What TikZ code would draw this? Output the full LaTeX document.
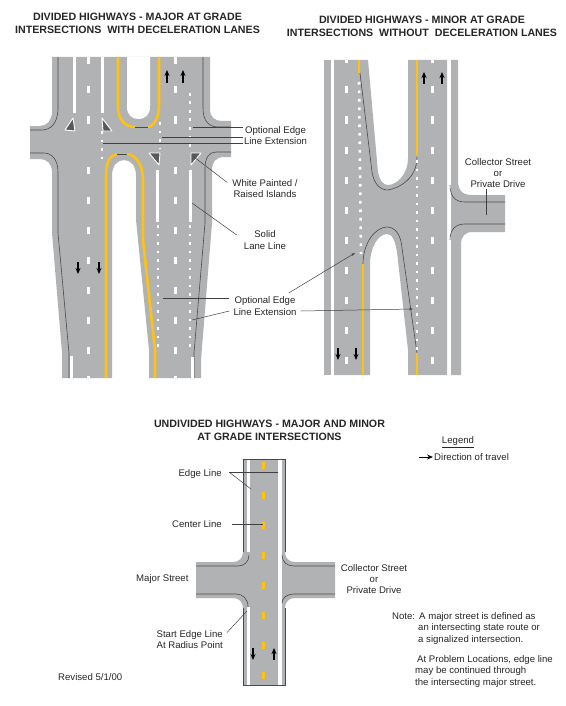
\documentclass[tikz,border=0pt]{standalone}
\usepackage{fontspec}
\setmainfont{Liberation Sans}
\usetikzlibrary{arrows.meta, calc}
\definecolor{road}{HTML}{B1B2B4}
\definecolor{edge}{HTML}{4A4A4C}
\definecolor{stripe}{HTML}{FFC20E}
\definecolor{isle}{HTML}{58595B}
\begin{document}
\begin{tikzpicture}[
  x=1pt, y=-1pt,
  lbl/.style={font=\fontsize{9.6}{11.3}\selectfont, inner sep=1pt, align=center, text=black!85},
  ttl/.style={font=\fontsize{10.65}{12.7}\selectfont\bfseries, inner sep=0pt, align=center, text=black!85},
  pave/.style={fill=road, draw=none},
  edgeln/.style={draw=edge, line width=0.6pt},
  yel/.style={draw=stripe, line width=2.6pt},
  wht/.style={draw=white, line width=3pt},
  dots/.style={draw=white, line width=2.6pt, dash pattern=on 2.6pt off 5.9pt},
  ar/.style={-{Stealth[length=6pt,width=5pt]}, line width=1.2pt, black},
  lead/.style={draw=black!75, line width=0.5pt},
  leadar/.style={lead, -{Stealth[length=4pt,width=2.5pt]}},
  tri/.style={fill=isle, draw=white, line width=0.9pt, line join=round}
]
\useasboundingbox (0,0) rectangle (565,706);

% left panel
\fill[pave] (52,57) -- (210,57) -- (210,110) .. controls (210,117) and (215,121) .. (222,121) -- (231,121) -- (231,157)
  -- (224,157) .. controls (216,157) and (212,162) .. (212,170) -- (212,223) -- (201,360) -- (201,378) -- (149,378) -- (149,350)
  -- (136,220) -- (136,176) .. controls (136,166) and (131,160) .. (124,160) .. controls (117,160) and (112,166) .. (112,176)
  -- (112,378) -- (62,378) -- (62,353) -- (52,233) -- (52,172) .. controls (52,164) and (47,159) .. (40,159) -- (30,159)
  -- (30,126) -- (40,126) .. controls (47,126) and (52,120) .. (52,112) -- cycle;
\fill[white] (127,57) -- (127,107) .. controls (127,115) and (132,119) .. (138.5,119) .. controls (145,119) and (150,115) .. (150,107) -- (150,57) -- cycle;
\draw[edgeln] (58,57) -- (58,108) .. controls (58,124) and (50,130) .. (42,130) -- (30,130);
\draw[edgeln] (30,153) -- (44,153) .. controls (52,153) and (58,160) .. (58,172) -- (58,233) -- (69,353) -- (69,378);
\draw[edgeln] (203,57) -- (203,108) .. controls (203,120) and (208,127) .. (218,127) -- (231,127);
\draw[edgeln] (231,152) -- (216,152) .. controls (209,152) and (205,158) .. (205,168) -- (205,223) -- (194,353) -- (194,378);
\draw[yel] (118,57) -- (118,107) .. controls (118,120) and (126,127) .. (135,127);
\draw[edgeln] (135,127) -- (148,127);
\draw[yel] (148,127) .. controls (155,126) and (159,116) .. (159,105) -- (159,57);
\draw[yel] (106,378) -- (106,175) .. controls (106,163) and (110,155) .. (117,154);
\draw[edgeln] (117,154) -- (127,154);
\draw[yel] (127,154) .. controls (137,155) and (143,166) .. (143,180) -- (143,240) -- (155,350) -- (155,378);
\foreach \xa in {74,102} \draw[wht] (\xa,57) -- (\xa,113);
\foreach \xa in {157.5,190} \draw[wht] (\xa,170) -- (\xa,222);
\draw[wht] (71,356) -- (71,378);
\draw[wht] (192,357) -- (192,378);
\foreach \ya in {90,120,170,200,230,260,290,320,350} {
  \draw[wht] (88,\ya-3.5) -- (88,\ya+3.5);
  \draw[wht] (175,\ya-3.5) -- (175,\ya+3.5);
}
\foreach \xa in {88,175} {
  \draw[wht] (\xa,57) -- (\xa,64);
  \draw[wht] (\xa,376) -- (\xa,378);
}
\draw[dots] (190,93) -- (190,147);
\draw[dots] (160,122) -- (160,149);
\draw[dots] (102,131) -- (102,160);
\draw[dots] (158,225) -- (158,348);
\draw[dots] (190,225) -- (190,348);
\draw[tri] (65,130) -- (73,118) -- (75,131) -- cycle;
\draw[tri] (102,118) -- (112,131) -- (103,131) -- cycle;
\draw[tri] (149,153) -- (160,153) -- (159,165) -- cycle;
\draw[tri] (191,153) -- (201,153) -- (191,165) -- cycle;
\foreach \xa in {167,183} \draw[ar] (\xa,83) -- (\xa,70);
\foreach \xa in {78,99} \draw[ar] (\xa,262) -- (\xa,274);

% right panel
\fill[pave] (324,60) rectangle (331,375);
\fill[pave] (334,60) -- (368,60) -- (378,172) .. controls (380,182) and (384,185) .. (388,185) .. controls (396,185) and (408,175) .. (408,158)
  -- (408,60) -- (447,60) -- (447,375) -- (408,375) -- (408,350) -- (397,252) .. controls (395,240) and (392,234) .. (387,234)
  .. controls (378,234) and (370,248) .. (370,264) -- (370,375) -- (334,375) -- cycle;
\fill[pave] (451,60) -- (458,60) -- (458,180) .. controls (458,190) and (462,195) .. (472,195) -- (505,195) -- (505,232) -- (473,232)
  .. controls (465,232) and (461,236) .. (461,245) -- (461,375) -- (451,375) -- cycle;
\draw[edgeln] (360,73) -- (372,172) .. controls (374,184) and (380,190) .. (388,190) .. controls (400,188) and (417,178) .. (417,157);
\draw[edgeln] (363,264) .. controls (363,242) and (376,227) .. (387,227) .. controls (396,227) and (401,236) .. (402,248) -- (417,353);
\draw[edgeln] (450,185) .. controls (450,196) and (455,202) .. (465,202) -- (505,202);
\draw[edgeln] (450,240) .. controls (450,230) and (455,224) .. (465,224) -- (505,224);
\draw[yel] (359,60) -- (359,73);
\draw[yel] (417,60) -- (417,155);
\draw[yel] (363,264) -- (363,375);
\draw[yel] (417,353) -- (417,375);
\foreach \ya in {90,120,150,180,210,240,270,300,330,360} {
  \draw[wht] (346,\ya-3.5) -- (346,\ya+3.5);
  \draw[wht] (432,\ya-3.5) -- (432,\ya+3.5);
}
\foreach \xa in {346,432} \draw[wht] (\xa,60) -- (\xa,63);
\draw[dots] (359,82) -- (361,254);
\draw[dots] (417,160) -- (417,350);
\foreach \xa in {424,442} \draw[ar] (\xa,84) -- (\xa,72);
\foreach \xa in {338,356} \draw[ar] (\xa,348) -- (\xa,360);

% bottom panel
\fill[pave] (243,459) -- (285,459) -- (285,552) .. controls (285,558) and (289,562) .. (295,562) -- (335,562) -- (335,598) -- (295,598)
  .. controls (289,598) and (285,602) .. (285,608) -- (285,685) -- (243,685) -- (243,608) .. controls (243,602) and (239,598) .. (233,598)
  -- (196,598) -- (196,562) -- (233,562) .. controls (239,562) and (243,558) .. (243,552) -- cycle;
\fill[white] (246.5,459) rectangle (250,552);
\fill[white] (246.5,607) rectangle (250,685);
\fill[white] (278,459) rectangle (281.5,685);
\draw[edgeln] (243.3,552) -- (243.3,459) -- (284.8,459) -- (284.8,552);
\draw[edgeln] (243.3,608) -- (243.3,685) -- (284.8,685) -- (284.8,608);
\draw[edgeln] (249,555) .. controls (249,562) and (244,566) .. (238,566) -- (196,566);
\draw[edgeln] (282,555) .. controls (282,562) and (287,566) .. (294,566) -- (335,566);
\draw[edgeln] (248,607) .. controls (248,599) and (243,594) .. (236,594) -- (196,594);
\draw[edgeln] (282,603) .. controls (282,598) and (287,594) .. (294,594) -- (335,594);
\foreach \ya in {465,495,525,555,585,615,645,675}
  \draw[yel] (263.5,\ya-3.5) -- (263.5,\ya+3.5);
\draw[ar] (253,648) -- (253,660);
\draw[ar] (274,660) -- (274,648);

% titles
\node[ttl] (ttlA) at (137.5,23) {DIVIDED HIGHWAYS - MAJOR AT GRADE\\INTERSECTIONS\ \ WITH DECELERATION LANES};
\node[ttl] (ttlB) at (422,26.5) {DIVIDED HIGHWAYS - MINOR AT GRADE\\INTERSECTIONS\ \ WITHOUT\ \ DECELERATION LANES};
\node[ttl] (ttlC) at (269.5,430.5) {UNDIVIDED HIGHWAYS - MAJOR AND MINOR\\AT GRADE INTERSECTIONS};

% labels
\node[lbl] (optA) at (275.5,135.5) {Optional Edge\\Line Extension};
\node[lbl] (isleA) at (265,188.5) {White Painted /\\Raised Islands};
\node[lbl] (solidA) at (265,240) {Solid\\Lane Line};
\node[lbl] (optB) at (265,306) {Optional Edge\\Line Extension};
\node[lbl] (collB) at (498,173) {Collector Street\\or\\Private Drive};
\node[lbl, anchor=east] (edgeC) at (223,474) {Edge Line};
\node[lbl, anchor=east] (centerC) at (223,524) {Center Line};
\node[lbl, anchor=west] (majorC) at (135,579) {Major Street};
\node[lbl, anchor=east, align=right] (startC) at (224,639.5) {Start Edge Line\\At Radius Point};
\node[lbl] (collC) at (374,579) {Collector Street\\or\\Private Drive};
\node[lbl] (legend) at (458,442) {\underline{Legend}};
\node[lbl, anchor=west] (travel) at (433,457) {Direction of travel};
\node[lbl, anchor=north west, align=left] (noteA) at (391,611.5) {\makebox[27pt][l]{Note:}A major street is defined as\\\hspace*{26pt}an intersecting state route or\\\hspace*{26pt}a signalized intersection.};
\node[lbl, anchor=north west, align=left] (noteB) at (414,654.5) {\hspace*{2pt}At Problem Locations, edge line\\may be continued through\\the intersecting major street.};
\node[lbl, anchor=west] (revised) at (57,677) {Revised 5/1/00};

% leaders
\coordinate (a1) at (193,127);
\coordinate (a2) at (162,137);
\coordinate (a3) at (103,143);
\draw[lead] (a1) -- (a1 -| optA.west);
\draw[lead] (a2) -- (a2 -| optA.west);
\draw[lead] (a3) -- (a3 -| optA.west);
\coordinate (a4) at (194,157);
\draw[lead] (a4) -- ($(isleA.west)+(-4,-6)$);
\coordinate (a5) at (192,203);
\draw[lead] (a5) -- ($(solidA.west)+(-6,-5)$);
\coordinate (b1) at (163,298);
\coordinate (b2) at (192,320);
\coordinate (b3) at (355,253);
\coordinate (b4) at (413,309);
\draw[lead] (b1) -- ($(b1 -| optB.west)+(-3,0)$);
\draw[lead] (b2) -- ($(optB.west)+(-3,5)$);
\draw[leadar] ($(optB.east)+(-9,-13)$) -- (b3);
\draw[leadar] ($(optB.east)+(3,5)$) -- (b4);
\coordinate (b5) at (486,215);
\draw[lead] (collB.south -| b5) -- (b5);
\coordinate (c1) at (278,472);
\coordinate (c2) at (251,489);
\coordinate (c3) at (263,524);
\coordinate (c4) at (247,611);
\draw[lead] (edgeC.east) ++(6,-2) coordinate (c0) -- (c1);
\draw[lead] (c0) -- (c2);
\draw[lead] (centerC.east) ++(9,0) -- (c3);
\draw[lead] ($(startC.east)+(3,-7)$) -- (c4);
\coordinate (l1) at (419,457);
\draw[ar, line width=1pt] (l1) -- (travel.west);
\end{tikzpicture}
\end{document}
